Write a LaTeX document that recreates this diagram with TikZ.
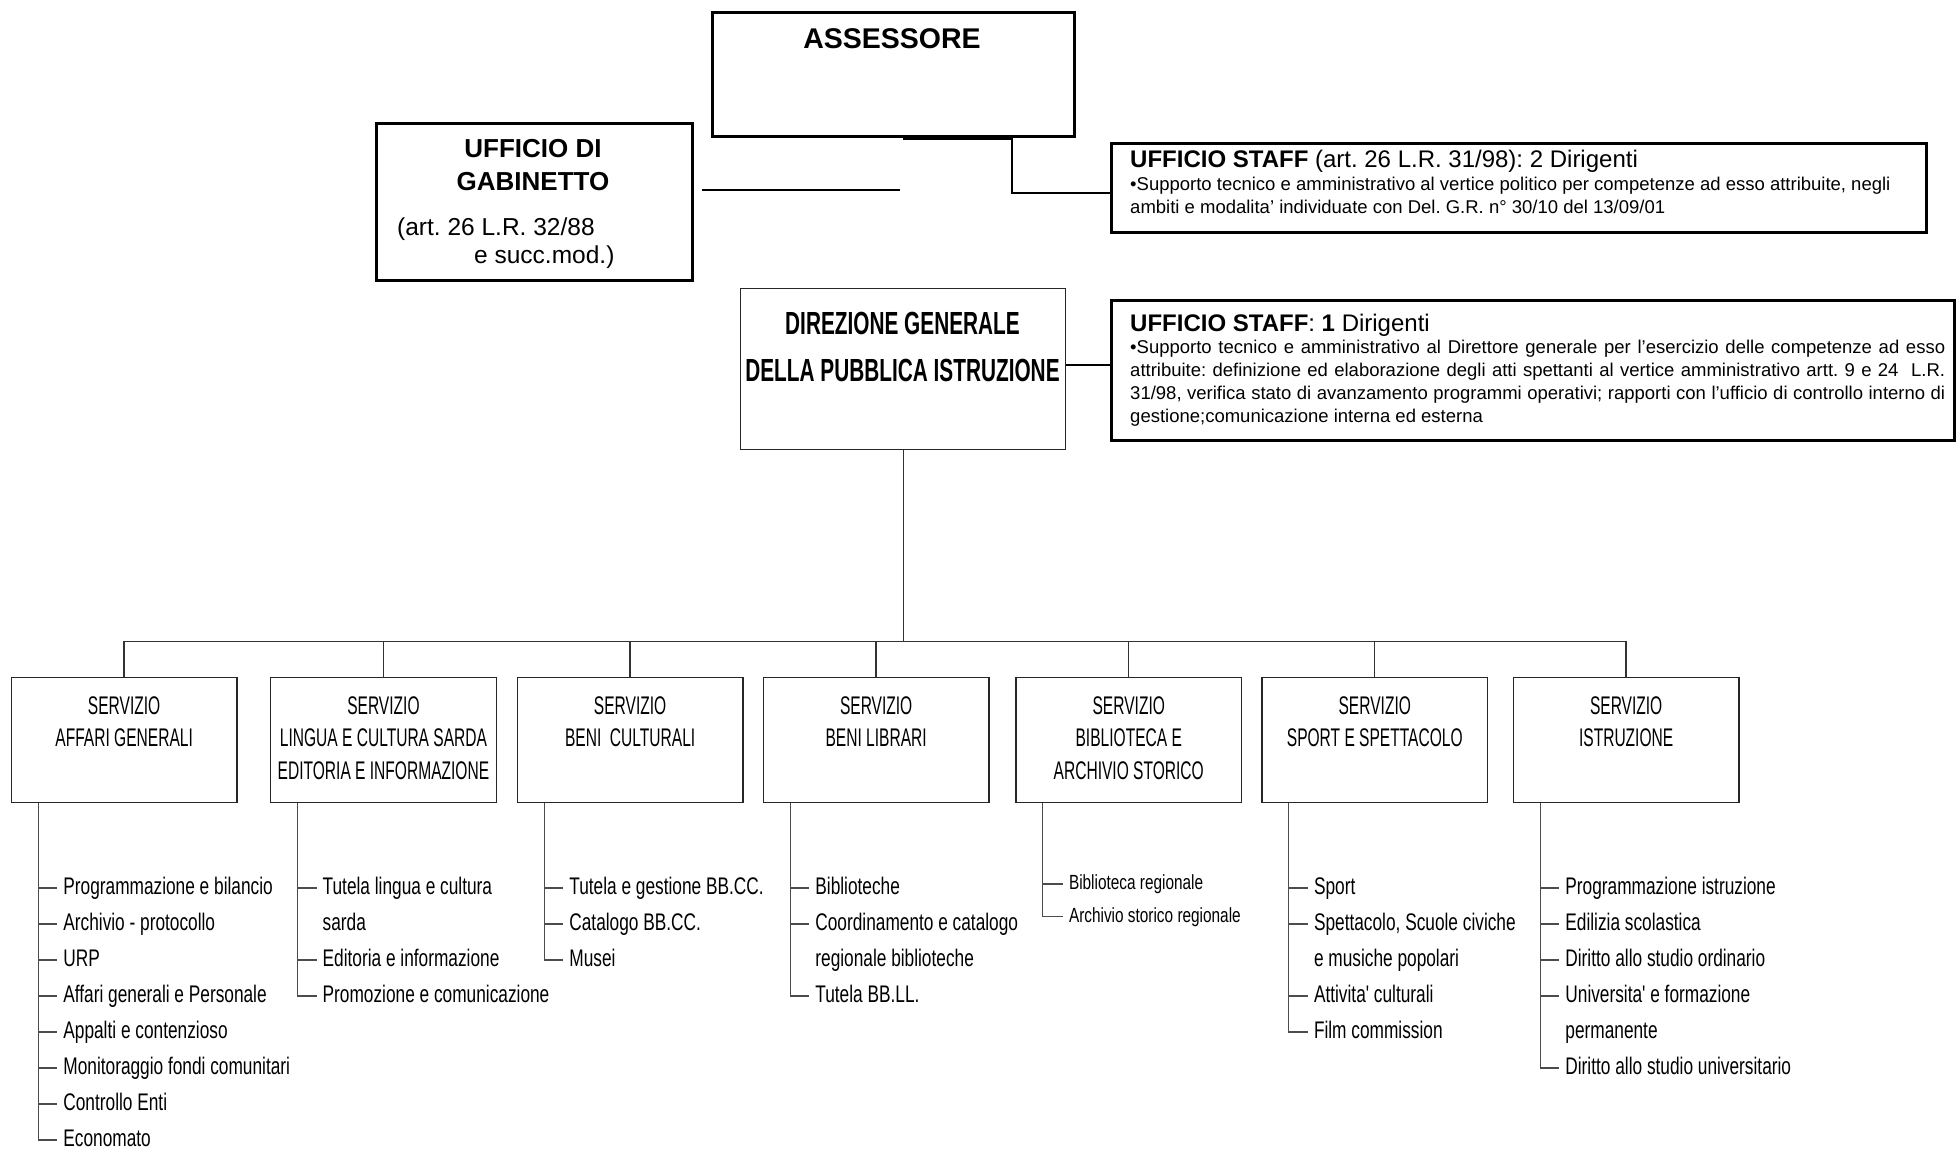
\documentclass[tikz,border=0pt]{standalone}
\usepackage{fontspec}
\setmainfont{Liberation Sans}
\newfontfamily\servfont[FakeStretch=0.61]{Liberation Sans}
\newfontfamily\listfont[FakeStretch=0.72]{Liberation Sans}
\newfontfamily\smlfont[FakeStretch=0.75]{Liberation Sans}
\newfontfamily\dirfont[FakeStretch=0.65]{Liberation Sans}
\usetikzlibrary{calc}
\newcommand\lsitem[4]{%
  \node[itm] (#2) at ($(v#1)+(25,{91.3+36*#3})$) {#4};
  \draw[lst] ($(#2.base west -| v#1)+(0,-6.5)$) -- ($(#2.base west)+(-6,-6.5)$);}
\newcommand\lscont[4]{%
  \node[itm] (#2) at ($(v#1)+(25,{91.3+36*#3})$) {#4};}
\begin{document}
\frenchspacing
\begin{tikzpicture}[x=1pt,y=-1pt,
  thickbox/.style={draw=black, line width=2.5pt, inner sep=0, anchor=north west},
  thinbox/.style={draw=black!85, line width=1.4pt, inner sep=0, anchor=north west},
  thickconn/.style={draw=black, line width=2.5pt},
  conn/.style={draw=black!80, line width=1.4pt},
  lst/.style={draw=black!70, line width=1.3pt},
  ttl/.style={inner sep=0, anchor=base, font=\bfseries\fontsize{26}{30}\selectfont},
  reg/.style={inner sep=0, anchor=base west, font=\fontsize{24.5}{28}\selectfont},
  stt/.style={inner sep=0, anchor=base west, font=\fontsize{24}{28}\selectfont},
  stb/.style={inner sep=0, anchor=base west, font=\fontsize{18.5}{23}\selectfont},
  dirt/.style={inner sep=0, anchor=base, font=\dirfont\bfseries\fontsize{32}{40}\selectfont},
  serv/.style={inner sep=0, anchor=base, font=\servfont\fontsize{25.5}{33}\selectfont},
  itm/.style={inner sep=0, anchor=base west, font=\listfont\fontsize{24}{36}\selectfont},
  sitm/.style={inner sep=0, anchor=base west, font=\smlfont\fontsize{20.5}{30}\selectfont},
]
\useasboundingbox (0,0) rectangle (1956,1149);

% ---- top level
\node[thickbox, minimum width=362pt, minimum height=124pt] (ass) at (711,11) {};
\node[ttl, font=\bfseries\fontsize{28.5}{32}\selectfont] (asst) at (892,48) {ASSESSORE};

\node[thickbox, minimum width=316pt, minimum height=157pt] (gab) at (375,122) {};
\node[ttl] (gab1) at (533,157) {UFFICIO DI};
\node[ttl] (gab2) at (533,190) {GABINETTO};
\node[reg] (gab3) at (397,235) {(art. 26 L.R. 32/88};
\node[reg] (gab4) at (474,263) {e succ.mod.)};

\node[thickbox, minimum width=815pt, minimum height=89pt] (st1) at (1110,142) {};
\node[stt] (st1t) at (1130,167) {\textbf{UFFICIO STAFF} (art. 26 L.R. 31/98): 2 Dirigenti};
\node[stb] (st1a) at (1130,190) {•Supporto tecnico e amministrativo al vertice politico per competenze ad esso attribuite, negli};
\node[stb] (st1b) at (1130,213.5) {ambiti e modalita’ individuate con Del. G.R. n° 30/10 del 13/09/01};

\node[thickbox, minimum width=843pt, minimum height=140pt] (st2) at (1110,299) {};
\node[stt] (st2t) at (1130,331) {\textbf{UFFICIO STAFF}: \textbf{1} Dirigenti};
\node[stb] (st2a) at (1130,353) {\makebox[815pt][s]{•Supporto tecnico e amministrativo al Direttore generale per l’esercizio delle competenze ad esso}};
\node[stb] (st2b) at (1130,376) {\makebox[815pt][s]{attribuite: definizione ed elaborazione degli atti spettanti al vertice amministrativo artt. 9 e 24\ \ L.R.}};
\node[stb] (st2c) at (1130,399) {\makebox[815pt][s]{31/98, verifica stato di avanzamento programmi operativi; rapporti con l’ufficio di controllo interno di}};
\node[stb] (st2d) at (1130,422) {gestione;comunicazione interna ed esterna};

\node[thinbox, minimum width=325pt, minimum height=161pt] (dir) at (740,288) {};
\node[dirt] (dir1) at (902.5,334.5) {DIREZIONE GENERALE};
\node[dirt] (dir2) at (902.5,381.5) {DELLA PUBBLICA ISTRUZIONE};

% ---- top connectors
\coordinate (g1) at (702,190);
\coordinate (g2) at (900,190);
\draw[thickconn] (g1) -- (g2);
\coordinate (a1) at (903,138.5);
\coordinate (a2) at (1012,193);
\draw[thickconn, line width=2.2pt] (a1) -| (a2) -- (a2 -| st1.west);
\draw[thickconn, line width=2.2pt] ([yshift=4.5pt]dir.east) -- ([yshift=4.5pt]dir.east -| st2.west);

% ---- servizi
\foreach \n/\L in {1/10.7, 2/270, 3/516.7, 4/762.7, 5/1015.3, 6/1261.3, 7/1512.7}{
  \node[thinbox, minimum width=225.5pt, minimum height=125pt] (s\n) at (\L,676.7) {};
  \coordinate (v\n) at ($(s\n.south west)+(27.5,0)$);
}
\coordinate (bus) at (0,641.5);
\draw[conn] (dir.south) -- (dir.south |- bus);
\draw[conn] (s1.north) -- (s1.north |- bus) -- (s7.north |- bus) -- (s7.north);
\foreach \n in {2,...,6}{ \draw[conn] (s\n.north) -- (s\n.north |- bus); }

\node[serv] (s1a) at ($(s1.north)+(0,37.3)$) {SERVIZIO};
\node[serv] (s1b) at ($(s1.north)+(0,69.8)$) {AFFARI GENERALI};
\node[serv] (s2a) at ($(s2.north)+(0,37.3)$) {SERVIZIO};
\node[serv] (s2b) at ($(s2.north)+(0,69.8)$) {LINGUA E CULTURA SARDA};
\node[serv] (s2c) at ($(s2.north)+(0,102.8)$) {EDITORIA E INFORMAZIONE};
\node[serv] (s3a) at ($(s3.north)+(0,37.3)$) {SERVIZIO};
\node[serv] (s3b) at ($(s3.north)+(0,69.8)$) {BENI\ \ CULTURALI};
\node[serv] (s4a) at ($(s4.north)+(0,37.3)$) {SERVIZIO};
\node[serv] (s4b) at ($(s4.north)+(0,69.8)$) {BENI LIBRARI};
\node[serv] (s5a) at ($(s5.north)+(0,37.3)$) {SERVIZIO};
\node[serv] (s5b) at ($(s5.north)+(0,69.8)$) {BIBLIOTECA E};
\node[serv] (s5c) at ($(s5.north)+(0,102.8)$) {ARCHIVIO STORICO};
\node[serv] (s6a) at ($(s6.north)+(0,37.3)$) {SERVIZIO};
\node[serv] (s6b) at ($(s6.north)+(0,69.8)$) {SPORT E SPETTACOLO};
\node[serv] (s7a) at ($(s7.north)+(0,37.3)$) {SERVIZIO};
\node[serv] (s7b) at ($(s7.north)+(0,69.8)$) {ISTRUZIONE};

% ---- lists
\lsitem{1}{p1a}{0}{Programmazione e bilancio}
\lsitem{1}{p1b}{1}{Archivio - protocollo}
\lsitem{1}{p1c}{2}{URP}
\lsitem{1}{p1d}{3}{Affari generali e Personale}
\lsitem{1}{p1e}{4}{Appalti e contenzioso}
\lsitem{1}{p1f}{5}{Monitoraggio fondi comunitari}
\lsitem{1}{p1g}{6}{Controllo Enti}
\lsitem{1}{p1h}{7}{Economato}
\draw[lst] (v1) |- ($(p1h.base west)+(-6,-6.5)$);

\lsitem{2}{p2a}{0}{Tutela lingua e cultura}
\lscont{2}{p2b}{1}{sarda}
\lsitem{2}{p2c}{2}{Editoria e informazione}
\lsitem{2}{p2d}{3}{Promozione e comunicazione}
\draw[lst] (v2) |- ($(p2d.base west)+(-6,-6.5)$);

\lsitem{3}{p3a}{0}{Tutela e gestione BB.CC.}
\lsitem{3}{p3b}{1}{Catalogo BB.CC.}
\lsitem{3}{p3c}{2}{Musei}
\draw[lst] (v3) |- ($(p3c.base west)+(-6,-6.5)$);

\lsitem{4}{p4a}{0}{Biblioteche}
\lsitem{4}{p4b}{1}{Coordinamento e catalogo}
\lscont{4}{p4c}{2}{regionale biblioteche}
\lsitem{4}{p4d}{3}{Tutela BB.LL.}
\draw[lst] (v4) |- ($(p4d.base west)+(-6,-6.5)$);

\node[sitm] (p5a) at ($(v5)+(26,86.5)$) {Biblioteca regionale};
\node[sitm] (p5b) at ($(v5)+(26,118.9)$) {Archivio storico regionale};
\draw[lst] ($(p5a.base west -| v5)+(0,-5.6)$) -- ($(p5a.base west)+(-6,-5.6)$);
\draw[lst] (v5) |- ($(p5b.base west)+(-6,-5.6)$);

\lsitem{6}{p6a}{0}{Sport}
\lsitem{6}{p6b}{1}{Spettacolo, Scuole civiche}
\lscont{6}{p6c}{2}{e musiche popolari}
\lsitem{6}{p6d}{3}{Attivita' culturali}
\lsitem{6}{p6e}{4}{Film commission}
\draw[lst] (v6) |- ($(p6e.base west)+(-6,-6.5)$);

\lsitem{7}{p7a}{0}{Programmazione istruzione}
\lsitem{7}{p7b}{1}{Edilizia scolastica}
\lsitem{7}{p7c}{2}{Diritto allo studio ordinario}
\lsitem{7}{p7d}{3}{Universita' e formazione}
\lscont{7}{p7e}{4}{permanente}
\lsitem{7}{p7f}{5}{Diritto allo studio universitario}
\draw[lst] (v7) |- ($(p7f.base west)+(-6,-6.5)$);
\end{tikzpicture}
\end{document}
